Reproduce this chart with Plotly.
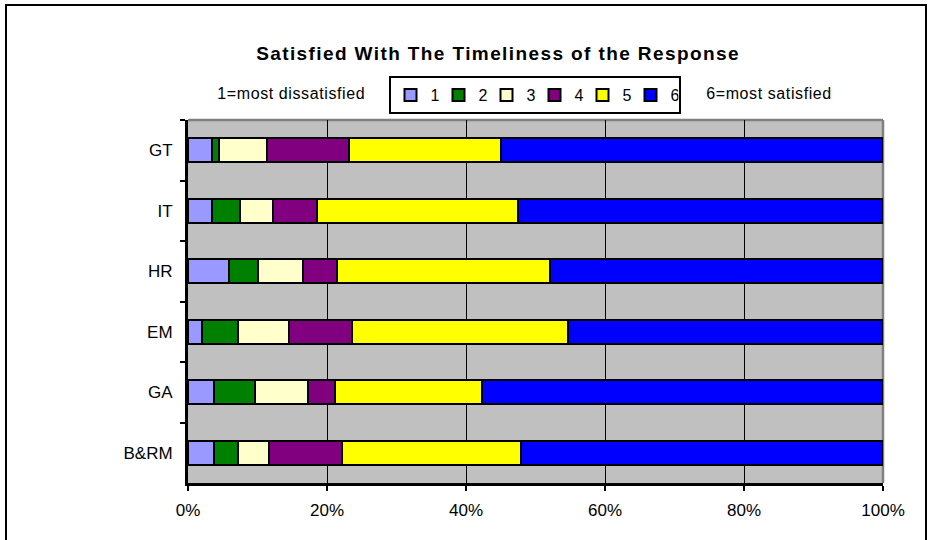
import plotly.graph_objects as go

# Survey rows, top to bottom
units = ["GT", "IT", "HR", "EM", "GA", "B&RM"]

# Share of responses (%) per rating, 1 = most dissatisfied ... 6 = most satisfied
rating_1 = [3.5, 3.5, 5.9, 2.0, 3.8, 3.8]
rating_2 = [0.9, 4.0, 4.1, 5.2, 5.9, 3.4]
rating_3 = [6.9, 4.8, 6.5, 7.4, 7.6, 4.5]
rating_4 = [11.9, 6.3, 5.0, 9.0, 3.9, 10.4]
rating_5 = [21.8, 28.9, 30.6, 31.1, 21.1, 25.8]
rating_6 = [55.0, 52.5, 47.9, 45.3, 57.7, 52.1]

series_names = ["1", "2", "3", "4", "5", "6"]
series_values = [rating_1, rating_2, rating_3, rating_4, rating_5, rating_6]
series_colors = ["#9999FF", "#008000", "#FFFFCC", "#800080", "#FFFF00", "#0000FF"]

tick_vals = [0, 20, 40, 60, 80, 100]
tick_text = ["0%", "20%", "40%", "60%", "80%", "100%"]

FONT = "Liberation Sans, Arial, sans-serif"

fig = go.Figure()
for name, vals, color in zip(series_names, series_values, series_colors):
    fig.add_trace(go.Bar(
        y=units, x=vals, name=name, orientation="h",
        marker=dict(color=color, line=dict(color="black", width=2)),
        hoverinfo="skip",
    ))

# plot-area geometry in pixels
L, R, T, B = 188, 883, 120, 483
W, H = 932, 540
pw, ph = R - L, B - T

def px(x):
    return (x - L) / pw

def py(y):
    return (B - y) / ph

fig.update_layout(
    width=W, height=H,
    margin=dict(l=L, r=W - R, t=T, b=H - B, pad=0),
    barmode="stack",
    bargap=0.6,
    paper_bgcolor="white",
    plot_bgcolor="#C0C0C0",
    font=dict(family=FONT, size=16, color="black"),
    title=dict(
        text="<b>Satisfied With The Timeliness of the Response</b>",
        font=dict(family=FONT, size=19, color="black"),
        xref="container", yref="container",
        x=498 / W, y=1 - 53 / H, xanchor="center", yanchor="middle",
    ),
    legend=dict(
        orientation="h",
        traceorder="normal",
        x=px(534.5), xanchor="center",
        y=py(76), yanchor="top",
        bgcolor="white", bordercolor="black", borderwidth=2,
        font=dict(family=FONT, size=16, color="black"),
        entrywidth=3, entrywidthmode="pixels",
        itemclick=False, itemdoubleclick=False,
    ),
    xaxis=dict(
        range=[0, 100], tickvals=tick_vals, ticktext=tick_text,
        showgrid=True, gridcolor="black", gridwidth=1,
        zeroline=False,
        showline=True, linecolor="black", linewidth=3,
        ticks="outside", ticklen=5, tickwidth=2, tickcolor="black",
        ticklabelstandoff=5,
        tickfont=dict(family=FONT, size=17, color="black"),
        fixedrange=True,
    ),
    yaxis=dict(
        categoryorder="array", categoryarray=units,
        autorange="reversed",
        showgrid=False, zeroline=False,
        showline=True, linecolor="black", linewidth=3,
        ticks="outside", tickson="boundaries", ticklen=5, tickwidth=2, tickcolor="black",
        ticklabelstandoff=9,
        tickfont=dict(family=FONT, size=17, color="black"),
        fixedrange=True,
    ),
    annotations=[
        dict(text="1=most dissatisfied", xref="paper", yref="paper",
             x=px(291), y=py(93), xanchor="center", yanchor="middle",
             showarrow=False, font=dict(family=FONT, size=16, color="black")),
        dict(text="6=most satisfied", xref="paper", yref="paper",
             x=px(769), y=py(93), xanchor="center", yanchor="middle",
             showarrow=False, font=dict(family=FONT, size=16, color="black")),
    ],
    shapes=[
        # gray top and right edges of the plot area
        dict(type="line", xref="paper", yref="paper", x0=0, x1=1, y0=1, y1=1,
             line=dict(color="#808080", width=2.5), layer="below"),
        dict(type="line", xref="paper", yref="paper", x0=1, x1=1, y0=0, y1=1,
             line=dict(color="#808080", width=2.5), layer="below"),
        # outer chart frame
        dict(type="rect", xref="paper", yref="paper",
             x0=px(6), x1=px(926), y0=py(560), y1=py(5),
             line=dict(color="black", width=2), fillcolor="rgba(0,0,0,0)", layer="above"),
    ],
)

spacing_js = """
var gd = document.getElementsByClassName('plotly-graph-div')[0];
function spaceText() {
  gd.querySelectorAll('.gtitle').forEach(function(t){ t.style.letterSpacing = '1.4px'; });
  gd.querySelectorAll('.annotation-text').forEach(function(t){ t.style.letterSpacing = '0.6px'; });
}
spaceText();
"""

fig.write_html("out.html", config={"displayModeBar": False, "staticPlot": True},
               post_script=spacing_js)
